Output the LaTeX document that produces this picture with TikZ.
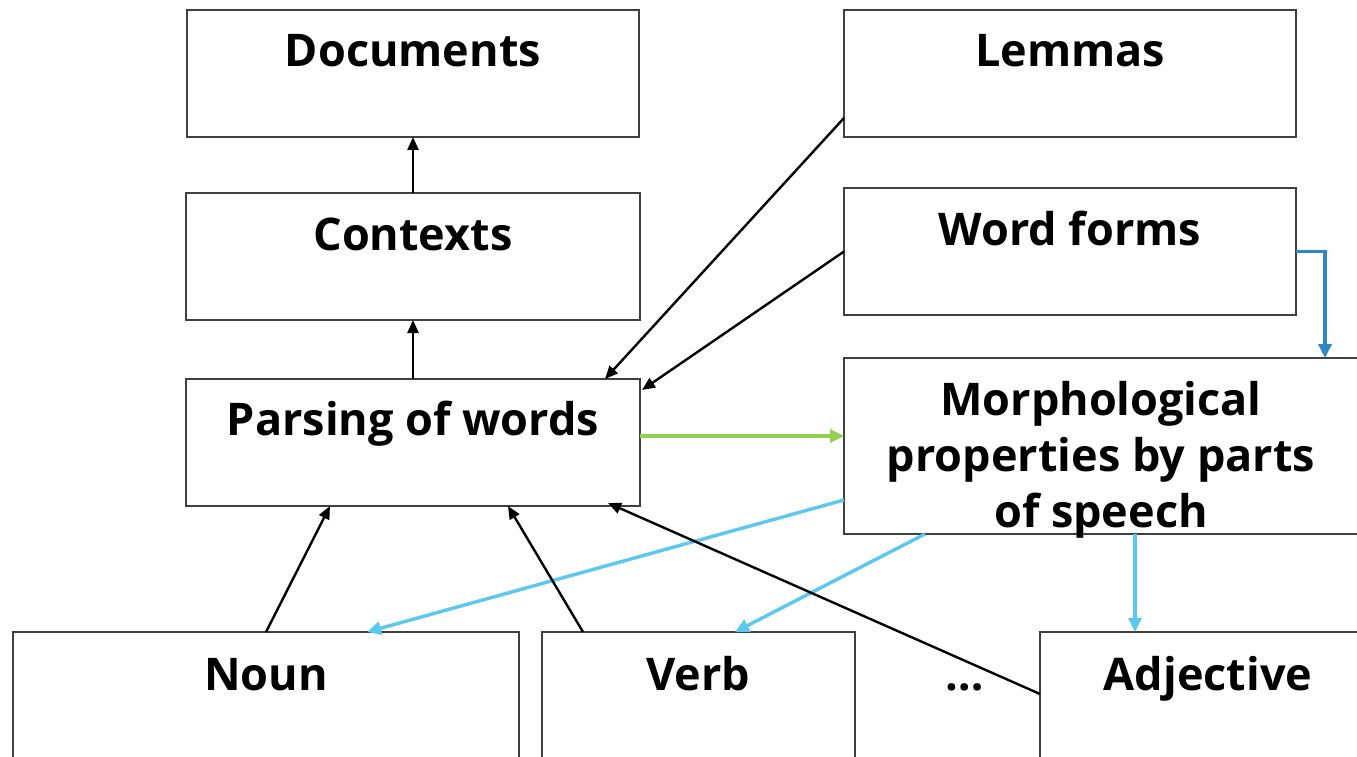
\documentclass[tikz,border=0pt]{standalone}
\usepackage{fontspec}
\setmainfont{Open Sans}
\usetikzlibrary{arrows.meta}
\definecolor{boxline}{HTML}{404040}
\definecolor{darkblue}{HTML}{2E86C8}
\definecolor{lightblue}{HTML}{5BC8EF}
\definecolor{lightgreen}{HTML}{92D050}
\tikzset{
  box/.style={draw=boxline, line width=1.4pt, fill=white, inner sep=0pt, outer sep=0pt, anchor=north west},
  lbl/.style={anchor=base, inner sep=0pt, font=\fontsize{45}{56}\selectfont\bfseries, align=center},
  blk/.style={draw=black, line width=2.4pt, -{Triangle[length=13pt,width=11pt]}},
  lblue/.style={draw=lightblue, line width=3.4pt, -{Triangle[length=14pt,width=13pt]}},
  dblue/.style={draw=darkblue, line width=3.4pt, -{Triangle[length=14pt,width=13pt]}},
  grn/.style={draw=lightgreen, line width=3.4pt, -{Triangle[length=14pt,width=13pt]}}
}
\begin{document}
\begin{tikzpicture}[x=1pt,y=-1pt]
\useasboundingbox (0,0) rectangle (1357,757);
\clip (0,0) rectangle (1357,757);
\fill[white] (0,0) rectangle (1357,757);
% boxes
\node[box, minimum width=452pt, minimum height=127pt] (doc) at (187,10) {};
\node[box, minimum width=452pt, minimum height=127pt] (lem) at (844,10) {};
\node[box, minimum width=454pt, minimum height=127pt] (ctx) at (186,193) {};
\node[box, minimum width=452pt, minimum height=127pt] (wf) at (844,188) {};
\node[box, minimum width=454pt, minimum height=127pt] (par) at (186,379) {};
\node[box, minimum width=530pt, minimum height=176pt] (mor) at (844,358) {};
\node[box, minimum width=506pt, minimum height=150pt] (noun) at (13,632) {};
\node[box, minimum width=313pt, minimum height=150pt] (verb) at (542,632) {};
\node[box, minimum width=340pt, minimum height=150pt] (adj) at (1040,632) {};
% labels
\node[lbl] (tdoc) at (413,67) {Documents};
\node[lbl] (tlem) at (1070,67) {Lemmas};
\node[lbl] (tctx) at (413,250) {Contexts};
\node[lbl] (twf) at (1070,245) {Word forms};
\node[lbl] (tpar) at (413,435) {Parsing of words};
\node[lbl] (tmor) at (1101,527) {Morphological\\properties by parts\\of speech};
\node[lbl] (tnoun) at (266,690) {Noun};
\node[lbl] (tverb) at (698,690) {Verb};
\node[lbl] (tdots) at (965,690) {…};
\node[lbl] (tadj) at (1208,690) {Adjective};
% connectors
\draw[blk] (ctx.north) -- (doc.south);
\draw[blk] (par.north) -- (ctx.south);
\draw[blk] ([yshift=19pt]lem.south west) -- ([xshift=-35pt]par.north east);
\draw[blk] (wf.west) -- ([xshift=2pt,yshift=-11pt]par.north east);
\draw[dblue] (wf.east) -| ([xshift=481pt]mor.north west);
\draw[grn] ([yshift=-57pt]par.north east) -- ([yshift=-78pt]mor.north west);
\draw[lblue] ([yshift=34pt]mor.south west) -- ([xshift=354pt]noun.north west);
\draw[lblue] ([xshift=81pt]mor.south west) -- ([xshift=193pt]verb.north west);
\draw[lblue] ([xshift=291pt]mor.south west) -- ([xshift=95pt]adj.north west);
\draw[blk] (noun.north) -- ([xshift=144pt]par.south west);
\draw[blk] ([xshift=41pt]verb.north west) -- ([xshift=322pt]par.south west);
\draw[blk] ([yshift=-62pt]adj.north west) -- ([xshift=-32pt,yshift=3pt]par.south east);
\end{tikzpicture}
\end{document}
